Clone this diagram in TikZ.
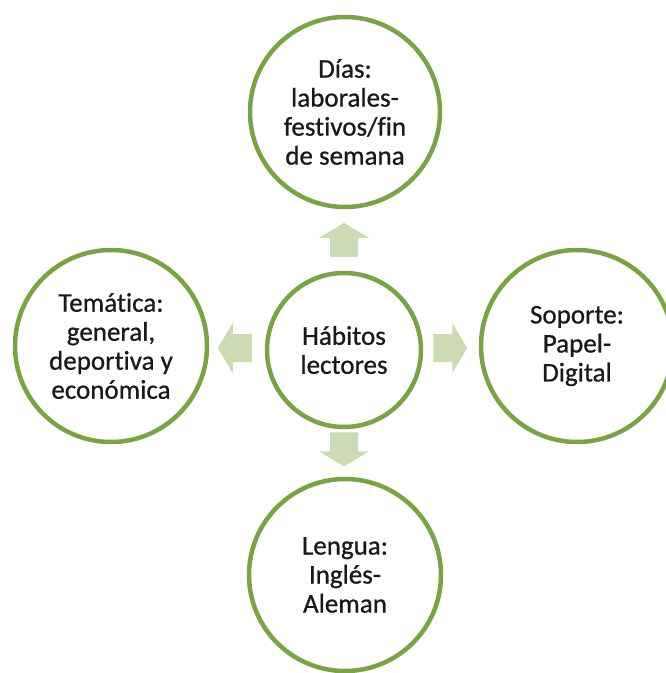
\documentclass[tikz,border=0pt]{standalone}
\usepackage{fontspec}
\setmainfont{Carlito}
\newfontfamily\ringfont{Carlito}[FakeBold=0.7, Ligatures=NoCommon]
\usetikzlibrary{calc}
\definecolor{ringgreen}{RGB}{122,163,72}
\definecolor{arrowgreen}{RGB}{204,219,180}
\definecolor{txt}{RGB}{25,25,25}
\tikzset{
  ring/.style={circle, draw=ringgreen, line width=4.5pt, fill=white, align=center,
    text=txt, inner sep=0pt, font=\ringfont\fontsize{27}{29}\selectfont},
  blockarrow/.style={fill=arrowgreen, draw=none}
}
\newcommand{\blockarrowpath}{(0,-14) -- (19,-14) -- (19,-25) -- (34,0) -- (19,25) -- (19,14) -- (0,14) -- cycle}
\begin{document}
\begin{tikzpicture}[x=1pt,y=1pt]
\useasboundingbox (0,0) rectangle (665,-673);
\fill[white] (0,0) rectangle (665,-673);
\node[ring, minimum size=154pt] (hab) at (344,-350) {Hábitos\\lectores};
\node[ring, minimum size=190pt] (dias) at (345,-112) {Días:\\laborales-\\festivos/fin\\de semana};
\node[ring, minimum size=192pt] (tem) at (111,-346) {Temática:\\general,\\deportiva y\\económica};
\node[ring, minimum size=192pt] (sop) at (577,-346) {Soporte:\\Papel-\\Digital};
\node[ring, minimum size=192pt] (len) at (345,-575) {Lengua:\\Inglés-\\Aleman};
% block arrows from the centre circle toward the outer circles
\fill[blockarrow, shift={($(hab.north)+(0,14)$)}, rotate=90] \blockarrowpath;
\fill[blockarrow, shift={($(hab.south)+(0,-3)$)}, rotate=-90] \blockarrowpath;
\fill[blockarrow, shift={($(hab.west)+(-13,2)$)}, rotate=180] \blockarrowpath;
\fill[blockarrow, shift={($(hab.east)+(10,2)$)}] \blockarrowpath;
\end{tikzpicture}
\end{document}
